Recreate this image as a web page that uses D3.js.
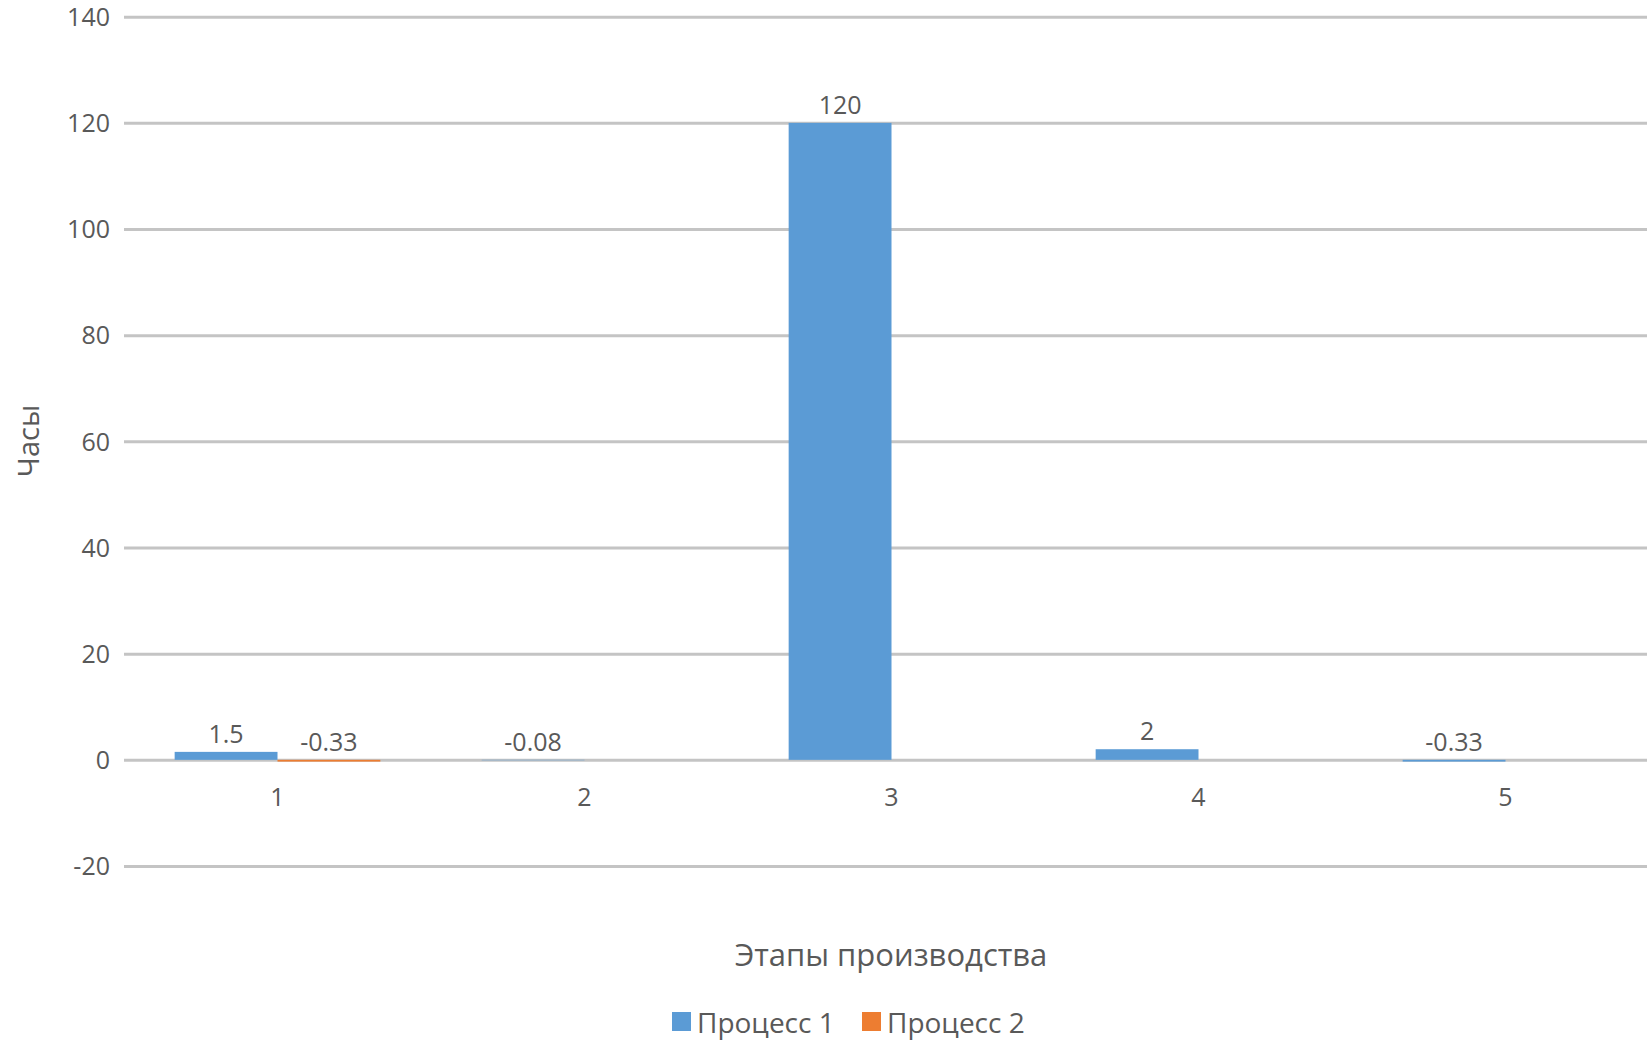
<!DOCTYPE html>
<html>
<head>
<meta charset="utf-8">
<script src="https://cdn.jsdelivr.net/npm/d3@7"></script>
<style>
  html, body { margin: 0; padding: 0; background: #fff; }
  svg { display: block; }
  text { font-family: "Open Sans", "Noto Sans", sans-serif; fill: #595959; }
</style>
</head>
<body>
<svg id="chart" width="1647" height="1040"></svg>
<script>
// Production stages and hours per process
const categories = ["1", "2", "3", "4", "5"];
const seriesNames = ["Процесс 1", "Процесс 2"];
const process1 = [1.5, -0.08, 120, 2, -0.33];
const process2 = [-0.33, null, null, null, null];
const yTicks = [-20, 0, 20, 40, 60, 80, 100, 120, 140];
const colors = ["#5b9bd5", "#ed7d31"];
const xTitle = "Этапы производства";
const yTitle = "Часы";

const svg = d3.select("#chart");
const W = 1647;
const plot = { left: 124, right: 1659, top: 16.7, bottom: 866 };
const fs = 25;

const y = d3.scaleLinear().domain([-20, 140]).range([plot.bottom, plot.top]);
const x = d3.scaleBand().domain(categories).range([plot.left, plot.right]).paddingInner(0.33).paddingOuter(0.165);
const xs = d3.scaleBand().domain(seriesNames).range([0, x.bandwidth()]);

// Gridlines (the zero line doubles as the category axis)
const yAxis = d3.axisLeft(y).tickValues(yTicks).tickSize(-(W - plot.left)).tickPadding(14).tickFormat(d => String(d));
const gy = svg.append("g").attr("transform", `translate(${plot.left},0)`).call(yAxis);
gy.select(".domain").remove();
gy.selectAll(".tick line").attr("stroke", "#c4c4c4").attr("stroke-width", 3);
gy.selectAll(".tick text").style("font-size", fs + "px").attr("fill", "#595959").attr("dy", "0.35em");

// Category labels below the zero line
const xAxis = d3.axisBottom(x).tickSize(0).tickPadding(28);
const gx = svg.append("g").attr("transform", `translate(0,${y(0)})`).call(xAxis);
gx.select(".domain").remove();
gx.selectAll(".tick text").style("font-size", fs + "px").attr("fill", "#595959");

// Bars
const data = [process1, process2];
data.forEach((vals, si) => {
  const g = svg.append("g");
  const rows = categories.map((c, i) => ({ c, v: vals[i] })).filter(d => d.v !== null);
  g.selectAll("rect").data(rows).enter().append("rect")
    .attr("x", d => x(d.c) + xs(seriesNames[si]))
    .attr("width", xs.bandwidth())
    .attr("y", d => y(Math.max(0, d.v)))
    .attr("height", d => Math.abs(y(d.v) - y(0)))
    .attr("fill", colors[si]);
  g.selectAll("text").data(rows).enter().append("text")
    .attr("x", d => x(d.c) + xs(seriesNames[si]) + xs.bandwidth() / 2)
    .attr("y", d => Math.min(y(d.v), y(0)) - 18)
    .attr("dy", "0.35em")
    .attr("text-anchor", "middle")
    .style("font-size", fs + "px")
    .text(d => String(d.v));
});

// Axis titles
svg.append("text").attr("x", 891).attr("y", 955).attr("dy", "0.35em")
  .attr("text-anchor", "middle").style("font-size", "31px").text(xTitle);
svg.append("text").attr("transform", "translate(29,441) rotate(-90)").attr("dy", "0.35em")
  .attr("text-anchor", "middle").style("font-size", "29px").text(yTitle);

// Legend
const legend = svg.append("g");
const legX = [672, 862];
seriesNames.forEach((n, i) => {
  legend.append("rect").attr("x", legX[i]).attr("y", 1012).attr("width", 19).attr("height", 19).attr("fill", colors[i]);
  legend.append("text").attr("x", legX[i] + 25).attr("y", 1023).attr("dy", "0.35em")
    .style("font-size", "28px").text(n);
});
</script>
</body>
</html>
